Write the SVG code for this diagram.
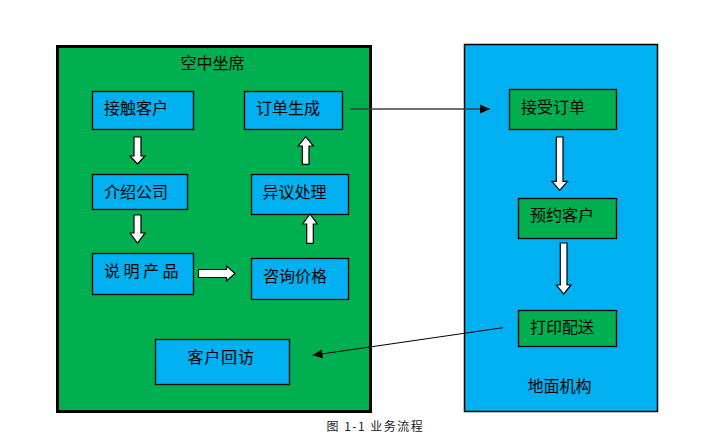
<svg xmlns="http://www.w3.org/2000/svg" width="702" height="444" viewBox="0 0 702 444">
<style>
.t{font-family:"Noto Sans CJK SC","Liberation Sans",sans-serif;font-size:16px;fill:#000}
.nb{fill:#00B0F0;stroke:#000;stroke-width:1.3}
.ng{fill:#00B050;stroke:#000;stroke-width:1.3}
.ba{fill:#fff;stroke:#000;stroke-width:1.2;stroke-linejoin:miter}
.cap{font-family:"Noto Sans CJK SC","Liberation Sans",sans-serif;font-size:12px;fill:#222;letter-spacing:1.5px}
</style>
<defs>
<marker id="ah" markerUnits="userSpaceOnUse" markerWidth="10" markerHeight="10" viewBox="0 0 10 10" refX="10" refY="5" orient="auto">
<path d="M0,0.5 L10,5 L0,9.5 Z" fill="#000"/>
</marker>
</defs>
<rect width="702" height="444" fill="#fff"/>
<g id="air">
<rect x="57.5" y="46.5" width="313" height="365" fill="#00B050" stroke="#000" stroke-width="3"/>
<text class="t" x="180.5" y="68.5">空中坐席</text>
</g>
<g id="ground">
<rect x="464.5" y="44.5" width="193" height="367" fill="#00B0F0" stroke="#000" stroke-width="1.5"/>
<text class="t" x="527.5" y="392">地面机构</text>
</g>
<g id="n1"><rect class="nb" x="92.5" y="91.5" width="101" height="38"/><text class="t" x="104" y="114">接触客户</text></g>
<g id="n2"><rect class="nb" x="92.5" y="174.5" width="95" height="35"/><text class="t" x="104" y="197.5">介绍公司</text></g>
<g id="n3"><rect class="nb" x="92.5" y="253.5" width="101" height="41"/><text class="t" x="104" y="277" letter-spacing="3.5">说明产品</text></g>
<g id="n4"><rect class="nb" x="251.5" y="258.5" width="97" height="41"/><text class="t" x="263" y="282">咨询价格</text></g>
<g id="n5"><rect class="nb" x="251.5" y="174.5" width="97" height="40"/><text class="t" x="262.5" y="198">异议处理</text></g>
<g id="n6"><rect class="nb" x="244.5" y="91.5" width="98" height="38"/><text class="t" x="256" y="114">订单生成</text></g>
<g id="n7"><rect class="nb" x="155.5" y="339.5" width="134" height="45"/><text class="t" x="187.5" y="363" letter-spacing="0.8">客户回访</text></g>
<g id="n8"><rect class="ng" x="509.5" y="89.5" width="107" height="40"/><text class="t" x="521" y="113">接受订单</text></g>
<g id="n9"><rect class="ng" x="518.5" y="198.5" width="98" height="40"/><text class="t" x="530" y="220.5">预约客户</text></g>
<g id="n10"><rect class="ng" x="518.5" y="310.5" width="98" height="36"/><text class="t" x="530" y="333">打印配送</text></g>
<g id="connectors">
<polygon class="ba" points="134,137 141,137 141,156 145,156 137.5,164 130,156 134,156"/>
<polygon class="ba" points="134,215 141,215 141,233 145,233 137.5,243 130,233 134,233"/>
<polygon class="ba" points="198.5,269.5 226.5,269.5 226.5,266 235,273.5 226.5,281 226.5,277.5 198.5,277.5"/>
<polygon class="ba" points="306.7,243.3 313.3,243.3 313.3,224 317.3,224 310,214 302.7,224 306.7,224"/>
<polygon class="ba" points="302.3,164.3 309,164.3 309,146 313.3,146 305.7,136.7 298.3,146 302.3,146"/>
<polygon class="ba" points="556.3,137 563,137 563,181.3 567.5,181.3 559.7,190.3 552,181.3 556.3,181.3"/>
<polygon class="ba" points="560.3,243 567,243 567,285 571,285 563.7,294 556.5,285 560.3,285"/>
<line x1="350" y1="109" x2="490" y2="109" stroke="#404040" stroke-width="1.5" marker-end="url(#ah)"/>
<line x1="503" y1="327.7" x2="312.5" y2="355.3" stroke="#000" stroke-width="1" marker-end="url(#ah)"/>
</g>
<text class="cap" x="326.5" y="431">图 1-1 业务流程</text>
</svg>
